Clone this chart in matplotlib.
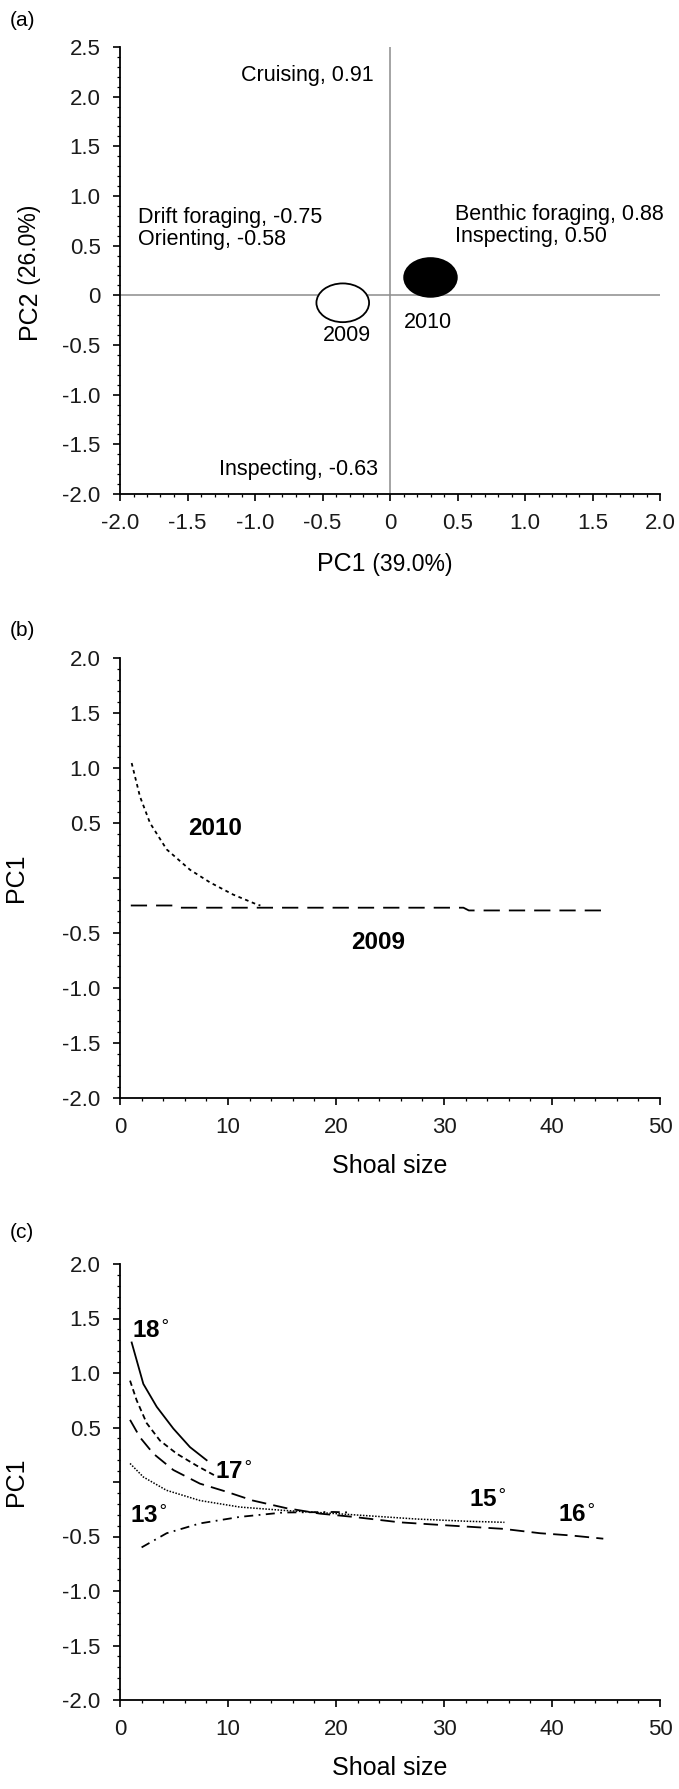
import numpy as np
import matplotlib.pyplot as plt
from matplotlib.patches import Ellipse
from matplotlib.ticker import MultipleLocator, FuncFormatter

plt.rcParams['font.family'] = ['Liberation Sans', 'DejaVu Sans']

# (a) PCA scores per year
years = ['2009', '2010']
pc1_year = [-0.35, 0.30]
pc2_year = [-0.075, 0.18]
year_fill = ['white', 'black']
loadings = ['Cruising, 0.91', 'Drift foraging, -0.75\nOrienting, -0.58',
            'Benthic foraging, 0.88\nInspecting, 0.50', 'Inspecting, -0.63']

# (b) PC1 vs shoal size per year
b2010_x = [1.08, 1.85, 2.78, 4.32, 6.48, 8.33, 10.46, 12.66, 13.0]
b2010_y = [1.045, 0.74, 0.50, 0.26, 0.075, -0.04, -0.15, -0.24, -0.25]
b2009_x = [1.0, 5.1, 5.6, 31.8, 32.3, 45.0]
b2009_y = [-0.25, -0.25, -0.27, -0.27, -0.295, -0.295]

# (c) PC1 vs shoal size per temperature
c18_x = [1.08, 2.16, 3.4, 4.94, 6.48, 8.02]
c18_y = [1.28, 0.90, 0.69, 0.49, 0.32, 0.20]
c17_x = [0.93, 1.54, 2.47, 3.70, 5.25, 7.1, 8.95]
c17_y = [0.93, 0.75, 0.54, 0.38, 0.26, 0.15, 0.05]
c16_x = [0.93, 1.85, 3.09, 4.94, 7.4, 9.88, 12.3, 15.4, 18.5, 21.6, 25.9, 30.6, 35.5, 38.9, 41.7, 44.75]
c16_y = [0.57, 0.41, 0.26, 0.11, -0.015, -0.09, -0.17, -0.24, -0.29, -0.32, -0.37, -0.40, -0.43, -0.47, -0.49, -0.52]
c15_x = [0.93, 2.16, 4.3, 7.4, 11.1, 15.1, 20.0, 27.5, 32.1, 35.6]
c15_y = [0.17, 0.046, -0.076, -0.17, -0.23, -0.26, -0.29, -0.34, -0.36, -0.37]
c13_x = [2.0, 4.32, 7.4, 11.1, 15.1, 19.75, 21.5]
c13_y = [-0.60, -0.47, -0.38, -0.32, -0.28, -0.275, -0.28]
temp_labels = ['18', '17', '15', '16', '13']
temp_label_x = [2.8, 10.5, 34.0, 42.3, 2.6]
temp_label_y = [1.38, 0.09, -0.17, -0.31, -0.32]

TICK_FS = 16
LAB_FS = 18
PCT_FS = 16.5
ANN_FS = 15.5
BOLD_FS = 17.5
W, H = 679, 1789
LEFT, RIGHT = 120, 660


def fmt(v, pos):
    if abs(v) < 1e-9:
        return '0'
    return f'{v:.1f}'


def fmt_no_zero(v, pos):
    if abs(v) < 1e-9:
        return ''
    return f'{v:.1f}'


def style_axes(ax, height_px):
    for s in ['top', 'right']:
        ax.spines[s].set_visible(False)
    for s in ['left', 'bottom']:
        ax.spines[s].set_linewidth(1.3)
    ax.tick_params(which='major', direction='out', length=5, width=1.2,
                   labelsize=TICK_FS, labelcolor='#1a1a1a', pad=9)
    ax.tick_params(which='minor', direction='out', length=2.5, width=0.9)
    ax.yaxis.set_label_coords((28 - LEFT) / (RIGHT - LEFT), 0.5)
    ax.xaxis.set_label_coords(0.5, -56 / height_px)


def add_axes_px(top, bottom):
    return fig.add_axes([LEFT / W, 1 - bottom / H, (RIGHT - LEFT) / W, (bottom - top) / H])


fig = plt.figure(figsize=(W / 100, H / 100), dpi=100)

# ---- panel (a)
top, bottom = 47, 494
ax = add_axes_px(top, bottom)
style_axes(ax, bottom - top)
ax.set_xlim(-2, 2)
ax.set_ylim(-2, 2.5)
ax.xaxis.set_major_locator(MultipleLocator(0.5))
ax.xaxis.set_minor_locator(MultipleLocator(0.1))
ax.yaxis.set_major_locator(MultipleLocator(0.5))
ax.yaxis.set_minor_locator(MultipleLocator(0.1))
ax.xaxis.set_major_formatter(FuncFormatter(fmt))
ax.yaxis.set_major_formatter(FuncFormatter(fmt))
ax.axhline(0, color='#8c8c8c', lw=1.1)
ax.axvline(0, color='#8c8c8c', lw=1.1)
for x, y, fc in zip(pc1_year, pc2_year, year_fill):
    ax.add_patch(Ellipse((x, y), 0.39, 0.39, facecolor=fc, edgecolor='black', lw=1.3, zorder=3))
ax.text(-0.32, -0.40, years[0], ha='center', va='center', fontsize=ANN_FS)
ax.text(0.28, -0.27, years[1], ha='center', va='center', fontsize=ANN_FS)
ax.text(-0.12, 2.21, loadings[0], ha='right', va='center', fontsize=ANN_FS)
ax.text(-1.87, 0.67, loadings[1], ha='left', va='center', fontsize=ANN_FS, linespacing=1.05)
ax.text(0.48, 0.70, loadings[2], ha='left', va='center', fontsize=ANN_FS, linespacing=1.05)
ax.text(-0.09, -1.75, loadings[3], ha='right', va='center', fontsize=ANN_FS)

# axis titles: "PC" part a bit larger than the percentage part
h_a = bottom - top
ybase = -77 / h_a
ax.text(0.455, ybase, 'PC1', transform=ax.transAxes, ha='right', va='baseline', fontsize=LAB_FS)
ax.text(0.455, ybase, ' (39.0%)', transform=ax.transAxes, ha='left', va='baseline', fontsize=PCT_FS)
xb = (36 - LEFT) / (RIGHT - LEFT)
ax.text(xb, 0.455, 'PC2', transform=ax.transAxes, ha='right', va='baseline',
        rotation=90, rotation_mode='anchor', fontsize=LAB_FS)
ax.text(xb, 0.455, ' (26.0%)', transform=ax.transAxes, ha='left', va='baseline',
        rotation=90, rotation_mode='anchor', fontsize=PCT_FS)
fig.text(10 / W, 1 - 20 / H, '(a)', fontsize=15, va='center')


def shoal_axes(top, bottom):
    a = add_axes_px(top, bottom)
    style_axes(a, bottom - top)
    a.set_xlim(0, 50)
    a.set_ylim(-2, 2)
    a.xaxis.set_major_locator(MultipleLocator(10))
    a.xaxis.set_minor_locator(MultipleLocator(2))
    a.yaxis.set_major_locator(MultipleLocator(0.5))
    a.yaxis.set_minor_locator(MultipleLocator(0.1))
    a.xaxis.set_major_formatter(FuncFormatter(lambda v, p: f'{v:.0f}'))
    a.yaxis.set_major_formatter(FuncFormatter(fmt_no_zero))
    a.set_xlabel('Shoal size', fontsize=LAB_FS)
    a.set_ylabel('PC1', fontsize=LAB_FS)
    return a


# ---- panel (b)
ax = shoal_axes(658, 1098)
ax.plot(b2010_x, b2010_y, color='black', lw=1.3, ls=(0, (2, 2)))
ax.plot(b2009_x, b2009_y, color='black', lw=1.3, ls=(0, (9, 5)))
ax.text(8.8, 0.45, '2010', ha='center', va='center', fontsize=BOLD_FS, fontweight='bold')
ax.text(23.9, -0.59, '2009', ha='center', va='center', fontsize=BOLD_FS, fontweight='bold')
fig.text(10 / W, 1 - 630 / H, '(b)', fontsize=15, va='center')

# ---- panel (c)
ax = shoal_axes(1264, 1700)
ax.plot(c18_x, c18_y, color='black', lw=1.3, ls='-')
ax.plot(c17_x, c17_y, color='black', lw=1.3, ls=(0, (3, 2)))
ax.plot(c16_x, c16_y, color='black', lw=1.3, ls=(0, (8, 4)))
ax.plot(c15_x, c15_y, color='black', lw=1.1, ls=(0, (1, 1)))
ax.plot(c13_x, c13_y, color='black', lw=1.3, ls=(0, (5, 3, 1, 3)))
for t, x, y in zip(temp_labels, temp_label_x, temp_label_y):
    ax.text(x, y, t + r'$^{\circ}$', ha='center', va='center', fontsize=BOLD_FS, fontweight='bold')
fig.text(10 / W, 1 - 1232 / H, '(c)', fontsize=15, va='center')

fig.savefig('out.png', dpi=100)
